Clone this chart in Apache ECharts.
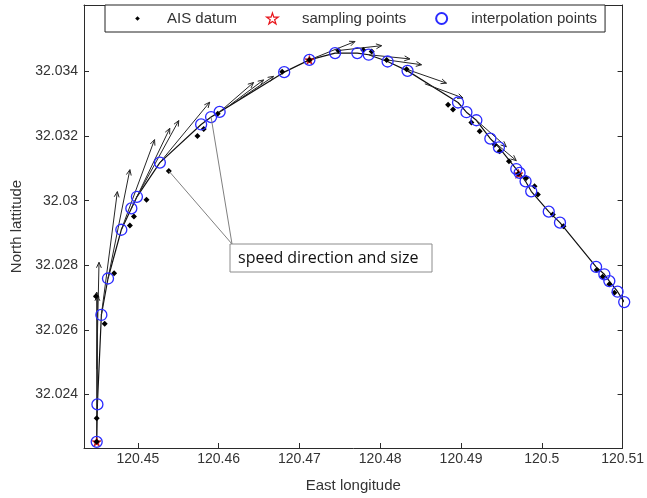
<!DOCTYPE html>
<html>
<head>
<meta charset="utf-8">
<script src="https://cdn.jsdelivr.net/npm/echarts@6/dist/echarts.min.js"></script>
<style>
  html, body { margin: 0; padding: 0; background: #fff; }
  #chart { width: 647px; height: 498px; }
</style>
</head>
<body>
<div id="chart"></div>
<script>
// AIS track records (longitude / latitude)
const aisLon = [120.44490, 120.44490, 120.44481, 120.44589, 120.44706, 120.44901, 120.44951, 120.45107,
  120.45383, 120.45737, 120.45815, 120.45988, 120.46786, 120.47123, 120.47481, 120.47790, 120.47894,
  120.48079, 120.48326, 120.48840, 120.48901, 120.49128, 120.49231, 120.49416, 120.49478, 120.49593,
  120.49711, 120.49807, 120.49910, 120.49951, 120.50136, 120.50268, 120.50679, 120.50753, 120.50836, 120.50898];
const aisLat = [32.02253, 32.02326, 32.02704, 32.02619, 32.02775, 32.02923, 32.02951, 32.03003,
  32.03092, 32.03200, 32.03222, 32.03269, 32.03399, 32.03436, 32.03465, 32.03467, 32.03462,
  32.03436, 32.03407, 32.03297, 32.03282, 32.03242, 32.03215, 32.03173, 32.03153, 32.03122,
  32.03083, 32.03070, 32.03045, 32.03019, 32.02957, 32.02921, 32.02785, 32.02764, 32.02741, 32.02715];

// Sampling points taken from the AIS records
const sampleLon = [120.44490, 120.47123, 120.49711];
const sampleLat = [32.02253, 32.03436, 32.03083];

// Interpolated track points
const interpLon = [120.44490, 120.44499, 120.44548, 120.44630, 120.44795, 120.44919, 120.44988, 120.45272,
  120.45783, 120.45906, 120.46012, 120.46811, 120.47123, 120.47441, 120.47716, 120.47857, 120.48091,
  120.48338, 120.48963, 120.49067, 120.49190, 120.49363, 120.49469, 120.49684, 120.49725, 120.49799,
  120.49869, 120.50086, 120.50225, 120.50672, 120.50774, 120.50836, 120.50938, 120.51020];
const interpLat = [32.02253, 32.02369, 32.02646, 32.02759, 32.02910, 32.02976, 32.03012, 32.03118,
  32.03236, 32.03259, 32.03275, 32.03398, 32.03436, 32.03457, 32.03457, 32.03452, 32.03431,
  32.03402, 32.03304, 32.03274, 32.03249, 32.03192, 32.03165, 32.03098, 32.03086, 32.03060,
  32.03029, 32.02966, 32.02932, 32.02795, 32.02772, 32.02751, 32.02718, 32.02686];

// Velocity vectors: origin and components (degrees of lon / lat)
const velLon = [120.44490, 120.44499, 120.44490, 120.44548, 120.44630, 120.44795, 120.44919, 120.44988,
  120.45272, 120.46012, 120.46144, 120.46268, 120.47123, 120.47481, 120.47857, 120.48079, 120.48326,
  120.48552, 120.49190, 120.49363];
const velLat = [32.02253, 32.02369, 32.02478, 32.02646, 32.02759, 32.02910, 32.02976, 32.03012,
  32.03118, 32.03275, 32.03297, 32.03316, 32.03436, 32.03465, 32.03452, 32.03436, 32.03407,
  32.03362, 32.03249, 32.03192];
const velU = [0, 0, 0.00029, 0.00198, 0.00271, 0.00411, 0.00476, 0.00518,
  0.00617, 0.00420, 0.00412, 0.00411, 0.00565, 0.00536, 0.00510, 0.00432, 0.00494,
  0.00473, 0.00371, 0.00321];
const velV = [0.00464, 0.00338, 0.00331, 0.00382, 0.00337, 0.00279, 0.00248, 0.00236,
  0.00187, 0.00091, 0.00077, 0.00069, 0.00057, 0.00015, -0.00013, -0.00015, -0.00043,
  -0.00044, -0.00082, -0.00068];

// Axis ticks
const lonTicks = [120.45, 120.46, 120.47, 120.48, 120.49, 120.50, 120.51];
const latTicks = [32.024, 32.026, 32.028, 32.030, 32.032, 32.034];

// Callout
const calloutText = 'speed direction and size';
const calloutTargets = [[120.45383, 32.03092], [120.45906, 32.03259]];

const lonMin = 120.44333, lonMax = 120.51;
const latMin = 32.02234, latMax = 32.03606;

const FONT = "'Liberation Sans', Arial, sans-serif";
const AXIS_COLOR = '#2b2b2b';
const TEXT_COLOR = '#333333';

const zip = (a, b) => a.map((v, i) => [v, b[i]]);
const fmt = v => String(Number(v.toFixed(4)));

const STAR = 'path://M50 0 L61.23 34.55 L97.55 34.55 L68.17 55.9 L79.39 90.45 L50 69.1 L20.61 90.45 L31.83 55.9 L2.45 34.55 L38.77 34.55 Z';
// small diamond centred in a wider frame, so the legend keeps it small
const DOT_ICON = 'path://M0 0 M100 100 M50 29 L71 50 L50 71 L29 50 Z';

function axisBase(extra) {
  return Object.assign({
    type: 'value',
    splitLine: { show: false },
    axisLine: { show: true, onZero: false, lineStyle: { color: AXIS_COLOR, width: 1 } },
    axisTick: { show: true, inside: true, length: 5, lineStyle: { color: AXIS_COLOR, width: 1 } }
  }, extra);
}

const chart = echarts.init(document.getElementById('chart'), null, { renderer: 'canvas' });

const option = {
  animation: false,
  backgroundColor: '#ffffff',
  grid: { left: 84, right: 23, top: 5, bottom: 49, show: false },
  legend: {
    top: 5, left: 105,
    padding: [6, 8, 6, 27],
    itemWidth: 25, itemHeight: 11, itemGap: 29,
    borderColor: '#222', borderWidth: 1, borderRadius: 0,
    backgroundColor: '#ffffff',
    selectedMode: false,
    textStyle: { fontFamily: FONT, fontSize: 15, color: TEXT_COLOR, padding: [0, 0, 0, 12] },
    data: [
      { name: 'AIS datum', icon: DOT_ICON },
      { name: 'sampling points', icon: STAR, itemStyle: { color: 'rgba(0,0,0,0)', borderColor: '#e8141a', borderWidth: 1.2 } },
      { name: 'interpolation points', icon: 'circle' }
    ]
  },
  xAxis: [
    axisBase({
      min: lonMin, max: lonMax, position: 'bottom',
      axisTick: { show: true, inside: true, length: 5, customValues: lonTicks, lineStyle: { color: AXIS_COLOR } },
      axisLabel: { customValues: lonTicks, formatter: fmt, margin: 4, fontFamily: FONT, fontSize: 14, color: TEXT_COLOR },
      name: 'East longitude', nameLocation: 'middle', nameGap: 30,
      nameTextStyle: { fontFamily: FONT, fontSize: 15, color: TEXT_COLOR }
    }),
    axisBase({
      min: lonMin, max: lonMax, position: 'top',
      axisTick: { show: true, inside: true, length: 5, customValues: lonTicks, lineStyle: { color: AXIS_COLOR } },
      axisLabel: { show: false }
    })
  ],
  yAxis: [
    axisBase({
      min: latMin, max: latMax, position: 'left',
      axisTick: { show: true, inside: true, length: 5, customValues: latTicks, lineStyle: { color: AXIS_COLOR } },
      axisLabel: { customValues: latTicks, formatter: fmt, margin: 6, fontFamily: FONT, fontSize: 14, color: TEXT_COLOR },
      name: 'North lattitude', nameLocation: 'middle', nameGap: 58,
      nameTextStyle: { fontFamily: FONT, fontSize: 15, color: TEXT_COLOR }
    }),
    axisBase({
      min: latMin, max: latMax, position: 'right',
      axisTick: { show: true, inside: true, length: 5, customValues: latTicks, lineStyle: { color: AXIS_COLOR } },
      axisLabel: { show: false }
    })
  ],
  series: [
    {
      name: 'track',
      type: 'line',
      data: zip(interpLon, interpLat),
      symbol: 'none',
      lineStyle: { color: '#111', width: 1.2 },
      silent: true, z: 2
    },
    {
      name: 'velocity',
      type: 'custom',
      silent: true, z: 3, clip: false,
      encode: { x: 0, y: 1 },
      data: velLon.map((v, i) => [v, velLat[i], velU[i], velV[i]]),
      renderItem: function (params, api) {
        const x = api.value(0), y = api.value(1);
        const p0 = api.coord([x, y]);
        const p1 = api.coord([x + api.value(2), y + api.value(3)]);
        const ang = Math.atan2(p1[1] - p0[1], p1[0] - p0[0]);
        const h = 6, a = 0.42;
        const h1 = [p1[0] - h * Math.cos(ang - a), p1[1] - h * Math.sin(ang - a)];
        const h2 = [p1[0] - h * Math.cos(ang + a), p1[1] - h * Math.sin(ang + a)];
        const st = { stroke: '#262626', lineWidth: 1, fill: null };
        return {
          type: 'group',
          children: [
            { type: 'line', shape: { x1: p0[0], y1: p0[1], x2: p1[0], y2: p1[1] }, style: st },
            { type: 'polyline', shape: { points: [h1, p1, h2] }, style: st }
          ]
        };
      }
    },
    {
      name: 'sampling points',
      type: 'scatter',
      data: zip(sampleLon, sampleLat),
      symbol: STAR,
      symbolSize: 9,
      itemStyle: { color: '#e8141a', borderColor: '#b00000', borderWidth: 0.6, opacity: 1 },
      z: 4, clip: false
    },
    {
      name: 'AIS datum',
      type: 'scatter',
      data: zip(aisLon, aisLat),
      symbol: 'diamond',
      symbolSize: 6,
      itemStyle: { color: '#000', opacity: 1 },
      z: 5, clip: false
    },
    {
      name: 'interpolation points',
      type: 'scatter',
      data: zip(interpLon, interpLat),
      symbol: 'circle',
      symbolSize: 11,
      itemStyle: { color: 'rgba(0,0,0,0)', borderColor: '#2a2aff', borderWidth: 1.3, opacity: 1 },
      z: 6, clip: false
    }
  ]
};

chart.setOption(option);

// Callout box with pointer lines to the vectors it describes
const box = { x: 230, y: 244, w: 202, h: 28 };
const origin = [box.x + 2, box.y];
const pointers = calloutTargets.map(t => chart.convertToPixel({ gridIndex: 0 }, t));
chart.setOption({
  graphic: [
    ...pointers.map(p => ({
      type: 'line', z: 10,
      shape: { x1: origin[0], y1: origin[1], x2: p[0], y2: p[1] },
      style: { stroke: '#808080', lineWidth: 1 }
    })),
    {
      type: 'rect', z: 11,
      shape: { x: box.x, y: box.y, width: box.w, height: box.h },
      style: { fill: '#fff', stroke: '#8c8c8c', lineWidth: 1 }
    },
    {
      type: 'text', z: 12,
      x: box.x + 8, y: box.y + box.h / 2,
      style: { text: calloutText, fontFamily: "'Open Sans', 'Noto Sans', sans-serif", fontSize: 16, fill: '#111', verticalAlign: 'middle' }
    }
  ]
});
</script>
</body>
</html>
